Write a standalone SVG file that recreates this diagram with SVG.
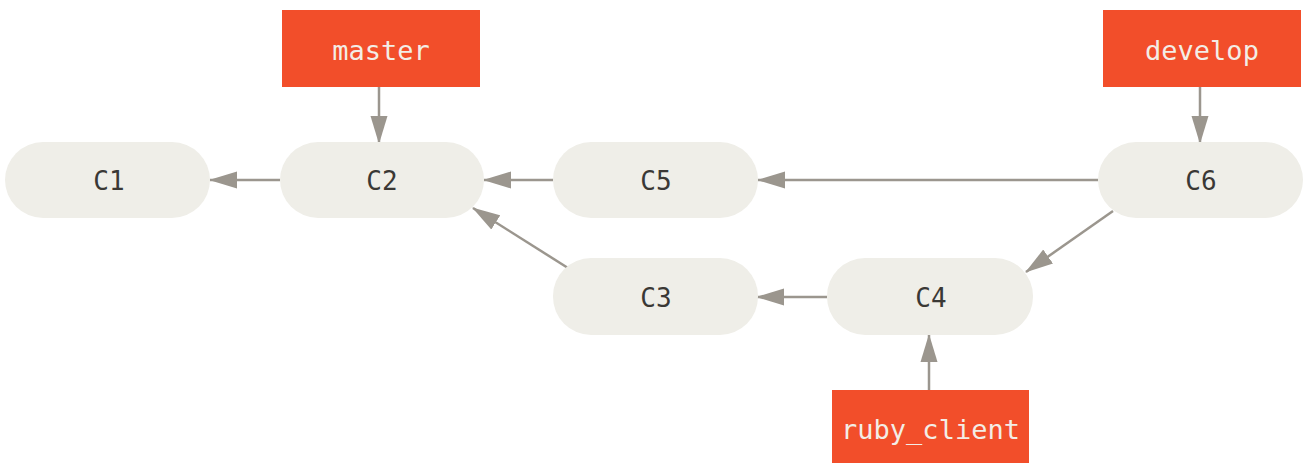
<svg xmlns="http://www.w3.org/2000/svg" width="1307" height="463" viewBox="0 0 1307 463">
<style>
.commit{fill:#efeee8}
.branch{fill:#f24e2a}
.ct{font-family:"DejaVu Sans Mono","Liberation Mono",monospace;font-size:26px;fill:#3a3835;text-anchor:middle;dominant-baseline:central}
.bt{font-family:"DejaVu Sans Mono","Liberation Mono",monospace;font-size:27px;fill:#f3ede6;text-anchor:middle;dominant-baseline:central}
.edge{stroke:#9b968e;stroke-width:2.5;fill:none;marker-end:url(#ah)}
</style>
<defs>
<marker id="ah" markerUnits="userSpaceOnUse" markerWidth="28" markerHeight="18" refX="27" refY="9" orient="auto">
<path d="M0,0.5 L28,9 L0,17.5 z" fill="#9b968e"/>
</marker>
</defs>
<rect width="1307" height="463" fill="#ffffff"/>
<g id="connectors">
<line class="edge" x1="280" y1="180" x2="210" y2="180"/>
<line class="edge" x1="553" y1="180" x2="484" y2="180"/>
<line class="edge" x1="1098" y1="180" x2="758" y2="180"/>
<line class="edge" x1="568" y1="268" x2="473" y2="208"/>
<line class="edge" x1="827" y1="297" x2="757" y2="297"/>
<line class="edge" x1="1113" y1="211" x2="1026" y2="272"/>
<line class="edge" x1="379" y1="87" x2="379" y2="143"/>
<line class="edge" x1="1200" y1="87" x2="1200" y2="143"/>
<line class="edge" x1="929" y1="390" x2="929" y2="335"/>
</g>
<g id="C1"><rect class="commit" x="5" y="142" width="205" height="76" rx="38"/><text class="ct" x="109" y="181">C1</text></g>
<g id="C2"><rect class="commit" x="280" y="142" width="204" height="76" rx="38"/><text class="ct" x="382" y="181">C2</text></g>
<g id="C5"><rect class="commit" x="553" y="142" width="205" height="76" rx="38"/><text class="ct" x="656" y="181">C5</text></g>
<g id="C6"><rect class="commit" x="1098" y="142" width="205" height="76" rx="38"/><text class="ct" x="1201" y="181">C6</text></g>
<g id="C3"><rect class="commit" x="553" y="258" width="205" height="77" rx="38"/><text class="ct" x="656" y="298">C3</text></g>
<g id="C4"><rect class="commit" x="827" y="258" width="206" height="77" rx="38"/><text class="ct" x="931" y="298">C4</text></g>
<g id="master"><rect class="branch" x="282" y="10" width="198" height="77"/><text class="bt" x="381" y="50">master</text></g>
<g id="develop"><rect class="branch" x="1103" y="10" width="198" height="77"/><text class="bt" x="1202" y="50">develop</text></g>
<g id="ruby_client"><rect class="branch" x="832" y="390" width="197" height="73"/><text class="bt" x="930.5" y="429">ruby_client</text></g>
</svg>
